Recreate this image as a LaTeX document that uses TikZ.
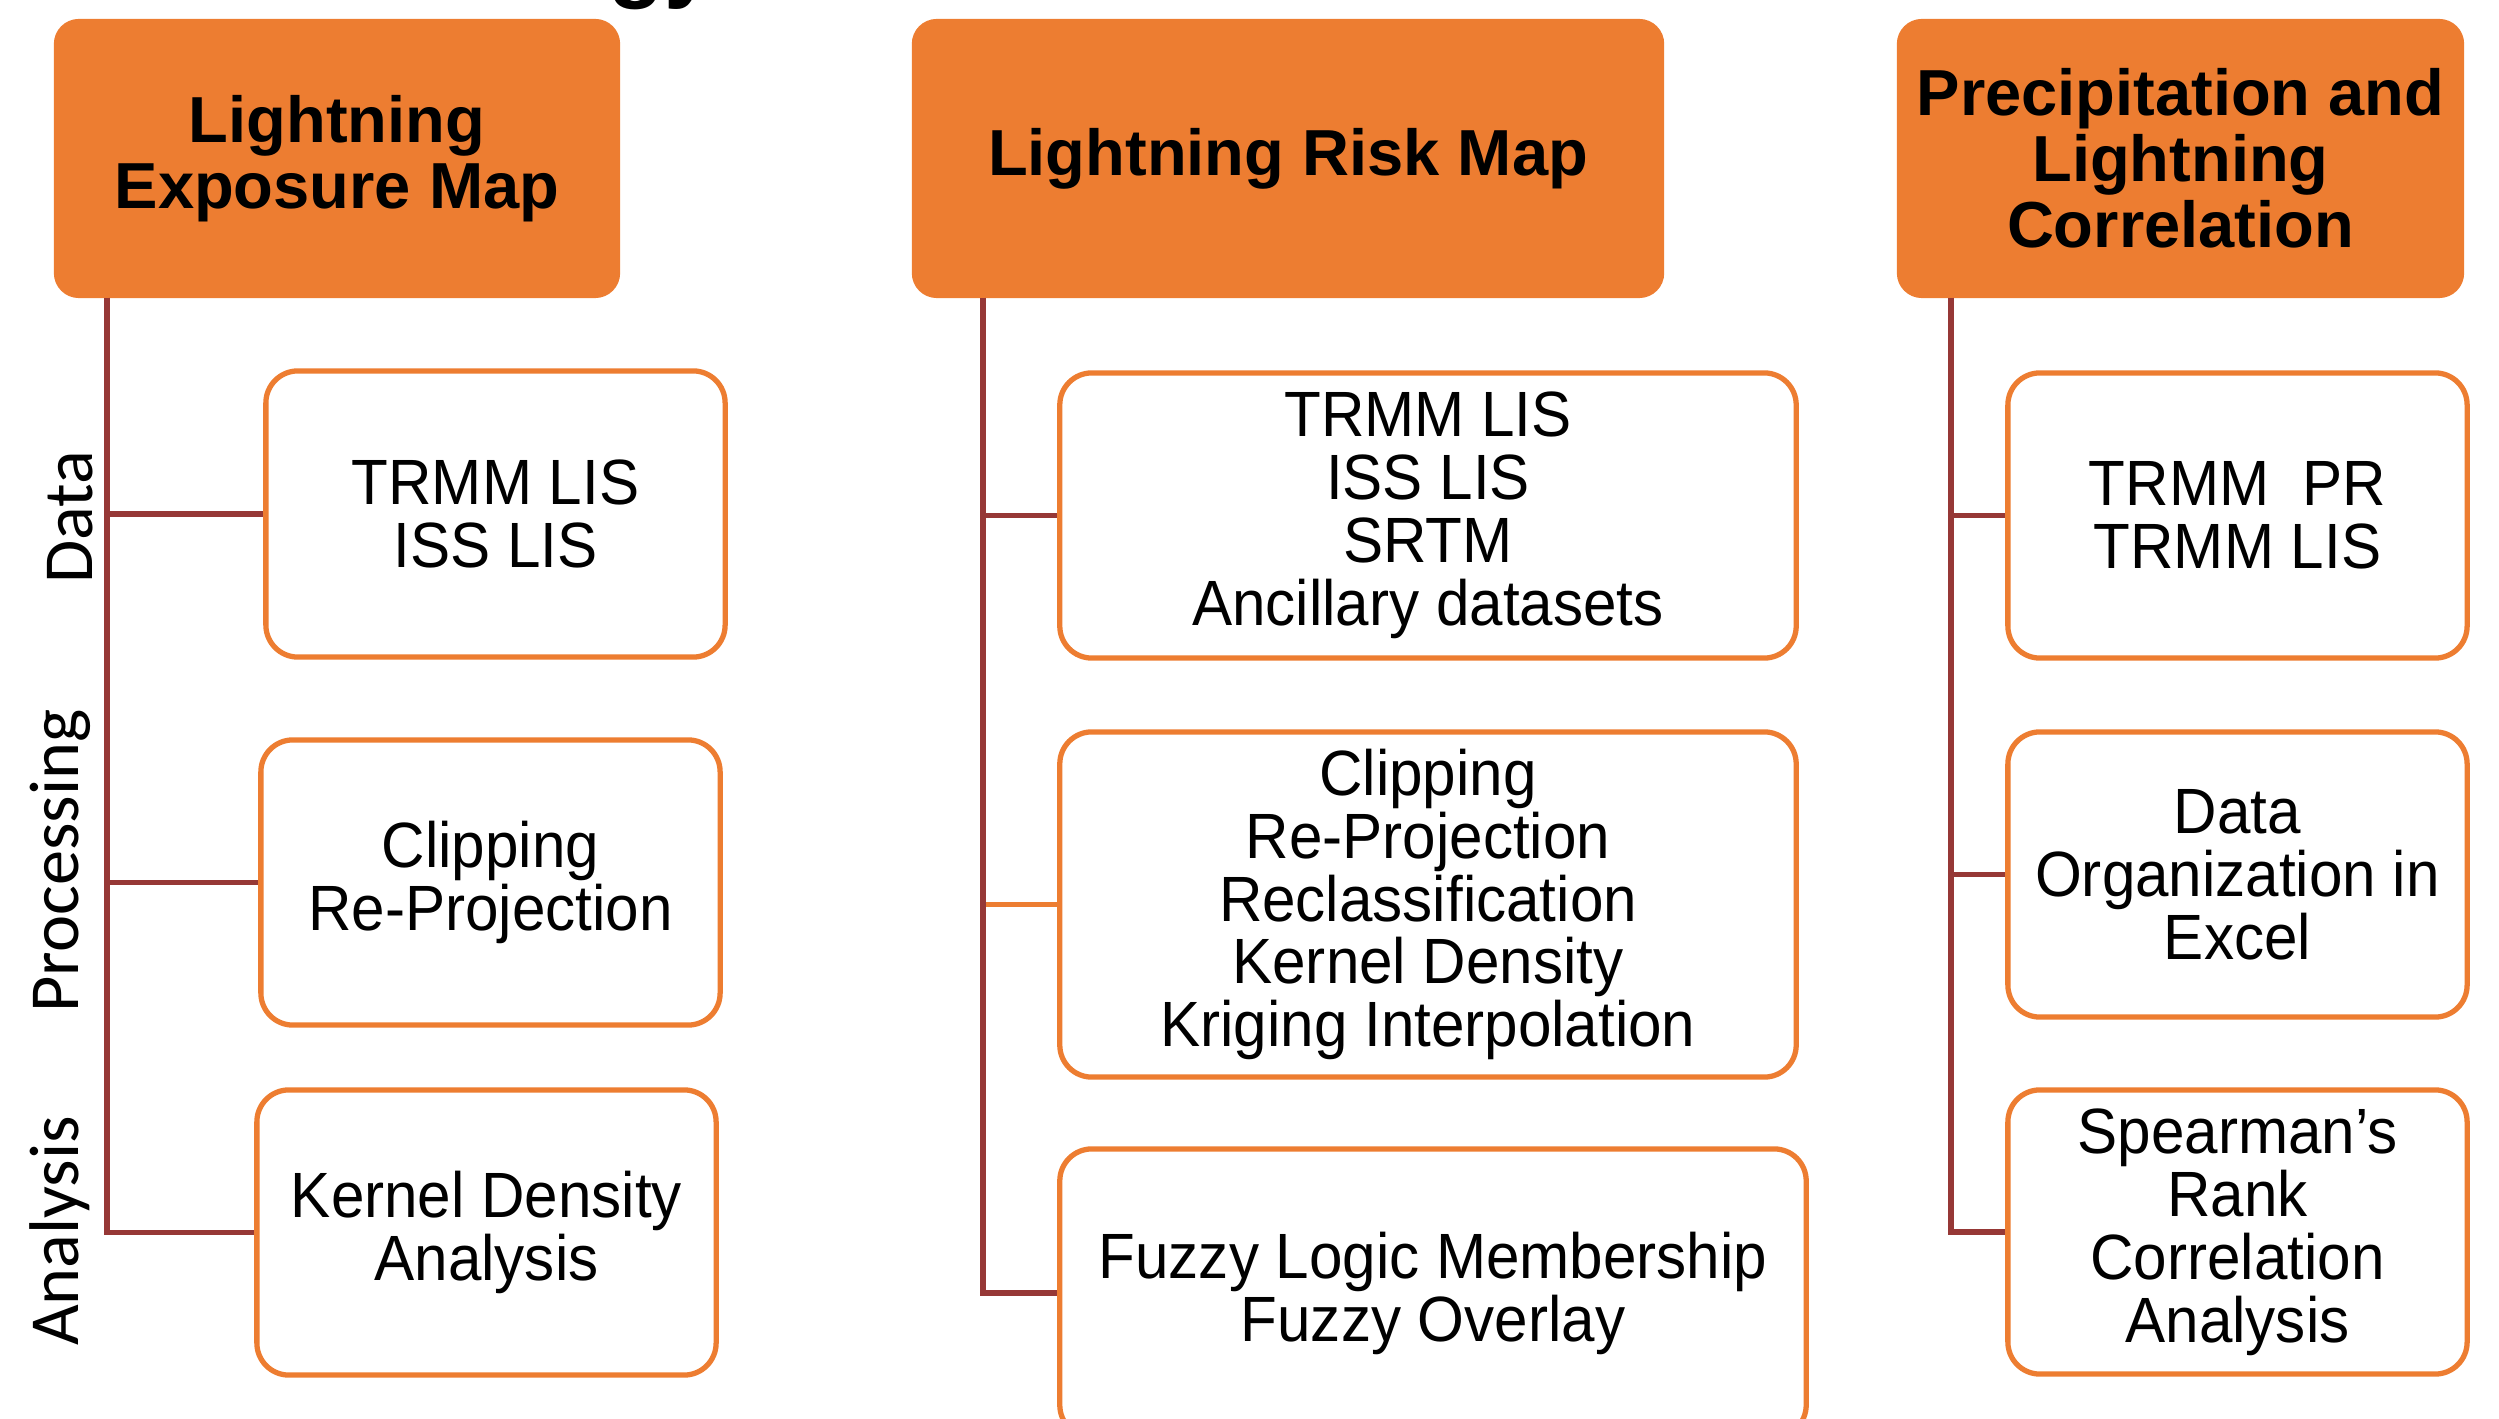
\documentclass[tikz,border=0pt]{standalone}
\usepackage{fontspec}
\setmainfont{Liberation Sans}
\newfontfamily\boxfont[FakeStretch=0.94]{Liberation Sans}
\newfontfamily\sidefont{Carlito}
\usepackage{xcolor}
\usepackage{tikz}
\definecolor{boxorange}{RGB}{237,125,49}
\definecolor{linkred}{RGB}{150,56,54}
\tikzset{
  head/.style={fill=boxorange, rounded corners=0.25cm, inner sep=0pt, align=center,
    font=\fontsize{18.5}{18.8}\selectfont\bfseries},
  item/.style={draw=boxorange, fill=white, line width=1.5pt, rounded corners=0.32cm,
    inner sep=0pt, align=center, font=\boxfont\fontsize{18.2}{17.9}\selectfont},
  link/.style={draw=linkred, line width=1.5pt},
  side/.style={rotate=90, anchor=base, inner sep=0pt, font=\sidefont\fontsize{20}{24}\selectfont}
}

\begin{document}
\begin{tikzpicture}[x=0.01cm, y=-0.01cm]
    \useasboundingbox (0,0) rectangle (2499,1419);
    \clip (0,0) rectangle (2499,1419);
    % title, cut off at the top edge
    \node[anchor=base east, inner sep=0pt, font=\fontsize{26}{30}\selectfont\bfseries] (title) at (716,-9) {Methodology};

    % headers
    \node[head, minimum width=5.66cm, minimum height=2.79cm] (expo) at (337,158.5) {Lightning\\Exposure Map};
    \node[head, minimum width=7.52cm, minimum height=2.79cm] (risk) at (1288,158.5) {Lightning Risk Map};
    \node[head, minimum width=5.67cm, minimum height=2.79cm] (corr) at (2180.5,158.5) {Precipitation and\\Lightning\\Correlation};

    % exposure map column
    \node[item, minimum width=4.59cm, minimum height=2.86cm] (e1) at (495.5,514) {TRMM LIS\\ISS LIS};
    \node[item, minimum width=4.59cm, minimum height=2.85cm] (e2) at (490.5,882.5) {Clipping\\Re-Projection};
    \node[item, minimum width=4.59cm, minimum height=2.85cm] (e3) at (486.5,1232.5) {Kernel Density\\Analysis};

    % risk map column
    \node[item, minimum width=7.36cm, minimum height=2.85cm] (r1) at (1428,515.5) {TRMM LIS\\ISS LIS\\SRTM\\Ancillary datasets};
    \node[item, minimum width=7.36cm, minimum height=3.45cm] (r2) at (1428,904.5) {Clipping\\Re-Projection\\Reclassification\\Kernel Density\\Kriging Interpolation};
    \node[item, minimum width=7.46cm, minimum height=2.88cm] (r3) at (1433,1293) {Fuzzy Logic Membership\\Fuzzy Overlay};

    % correlation column
    \node[item, minimum width=4.59cm, minimum height=2.85cm] (c1) at (2237.5,515.5) {TRMM\ \ PR\\TRMM LIS};
    \node[item, minimum width=4.59cm, minimum height=2.85cm] (c2) at (2237.5,874.5) {Data\\Organization in\\Excel};
    \node[item, minimum width=4.59cm, minimum height=2.84cm] (c3) at (2237.5,1232) {Spearman’s\\Rank\\Correlation\\Analysis};

    % side labels
    \node[side] (ldata) at (92,517) {Data};
    \node[side] (lproc) at (78,861) {Processing};
    \node[side] (lanal) at (78,1231) {Analysis};

    % connectors
    \coordinate (t1) at (107,298);
    \coordinate (t2) at (983,298);
    \coordinate (t3) at (1951,298);
    \draw[link] (t1) |- (e1.west);
    \draw[link] (t1) |- (e2.west);
    \draw[link] (t1) |- (e3.west);
    \draw[link, draw=boxorange] (t2 |- r2.west) -- (r2.west);
    \draw[link] (t2) |- (r1.west);
    \draw[link] (t2) |- (r3.west);
    \draw[link] (t3) |- (c1.west);
    \draw[link] (t3) |- (c2.west);
    \draw[link] (t3) |- (c3.west);
\end{tikzpicture}
\end{document}
